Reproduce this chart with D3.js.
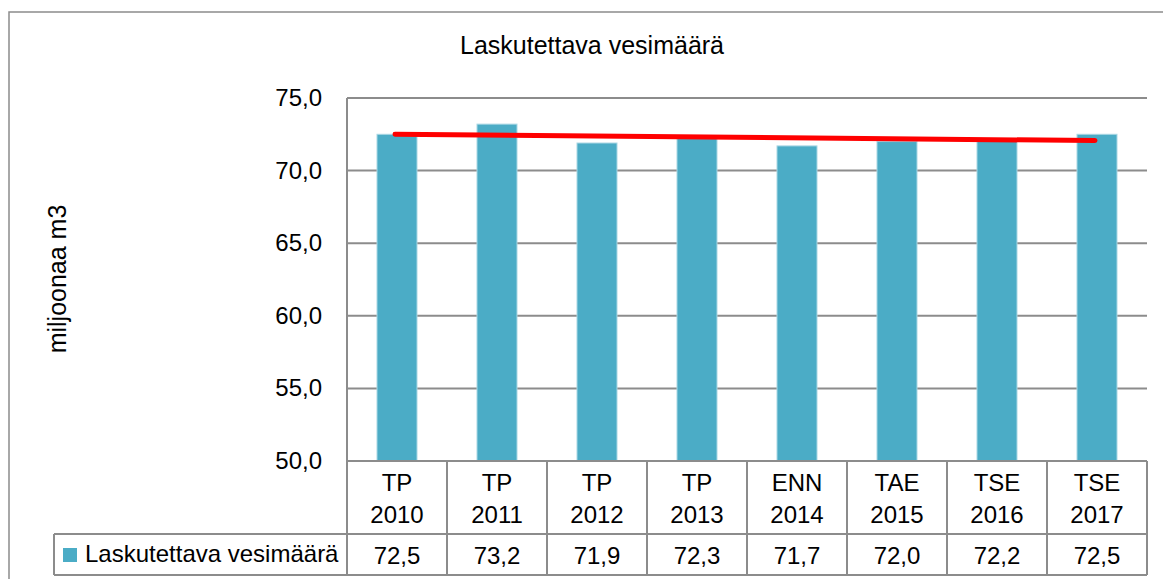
<!DOCTYPE html>
<html>
<head>
<meta charset="utf-8">
<script src="https://cdn.jsdelivr.net/npm/d3@7"></script>
<style>
  body { margin: 0; background: #fff; }
  text { font-family: "Liberation Sans", Arial, sans-serif; fill: #000; }
</style>
</head>
<body>
<div id="chart"></div>
<script>
// chart data
const categories = ["TP 2010", "TP 2011", "TP 2012", "TP 2013", "ENN 2014", "TAE 2015", "TSE 2016", "TSE 2017"];
const values = [72.5, 73.2, 71.9, 72.3, 71.7, 72.0, 72.2, 72.5];
const yTicks = [50, 55, 60, 65, 70, 75];
const seriesName = "Laskutettava vesimäärä";
const chartTitle = "Laskutettava vesimäärä";
const yLabel = "miljoonaa m3";

const W = 1163, H = 579;
const margin = {top: 98, right: 16, bottom: 119, left: 347},
    width = W - margin.left - margin.right,
    height = H - margin.top - margin.bottom;

const fmt = v => d3.format(".1f")(v).replace(".", ",");
const grey = "#8c8c8c";

const svg = d3.select("#chart")
  .append("svg")
    .attr("width", W)
    .attr("height", H);

// outer frame
svg.append("rect")
  .attr("x", 9).attr("y", 12)
  .attr("width", W + 10).attr("height", H + 10)
  .attr("fill", "none")
  .attr("stroke", grey)
  .attr("stroke-width", 1.5);

const g = svg.append("g")
  .attr("transform", "translate(" + margin.left + "," + margin.top + ")");

// scales
const xBand = d3.scaleBand().domain(categories).range([0, width]);
const xBar = d3.scaleBand().domain(categories).range([0, width])
  .paddingInner(0.6).paddingOuter(0.3);
const y = d3.scaleLinear().domain([50, 75]).range([height + 1, 0]);

// gridlines
g.append("g")
  .selectAll("line")
  .data(yTicks)
  .enter()
  .append("line")
    .attr("x1", 0).attr("x2", width)
    .attr("y1", d => y(d)).attr("y2", d => y(d))
    .attr("stroke", grey)
    .attr("stroke-width", 2);

// y tick labels
g.append("g")
  .selectAll("text")
  .data(yTicks)
  .enter()
  .append("text")
    .attr("x", -25)
    .attr("y", d => y(d) + 8)
    .attr("text-anchor", "end")
    .style("font-size", "24px")
    .text(d => fmt(d));

// bars
g.append("g")
  .selectAll("rect")
  .data(values)
  .enter()
  .append("rect")
    .attr("x", (d, i) => xBar(categories[i]))
    .attr("width", xBar.bandwidth())
    .attr("y", d => y(d))
    .attr("height", d => y(50) - y(d))
    .attr("fill", "#4bacc6")
    .attr("stroke", "#a9d7e4")
    .attr("stroke-width", 1);

// linear trendline (least squares, as the spreadsheet draws it)
const xs = values.map((d, i) => i + 1);
const mx = d3.mean(xs), my = d3.mean(values);
const slope = d3.sum(xs, (d, i) => (d - mx) * (values[i] - my)) / d3.sum(xs, d => (d - mx) * (d - mx));
const icpt = my - slope * mx;
const trend = [0, categories.length - 1].map(i => ({i: i, v: icpt + slope * (i + 1)}));
g.append("path")
  .datum(trend)
  .attr("fill", "none")
  .attr("stroke", "#ff0000")
  .attr("stroke-width", 5)
  .attr("stroke-linecap", "round")
  .attr("d", d3.line()
    .x(d => xBand(categories[d.i]) + xBand.bandwidth() / 2 - 2)
    .y(d => y(d.v)));

// data table
const rowTop = height + 2, row1 = 72, row2 = 41;
const table = g.append("g").attr("stroke", grey).attr("stroke-width", 2);
// axis line continues through table
table.append("line").attr("x1", 0).attr("x2", 0).attr("y1", 0).attr("y2", rowTop + row1 + row2);
table.selectAll(".vline")
  .data(categories)
  .enter()
  .append("line")
    .attr("x1", d => xBand(d) + xBand.bandwidth()).attr("x2", d => xBand(d) + xBand.bandwidth())
    .attr("y1", y(50)).attr("y2", rowTop + row1 + row2);
table.append("line").attr("x1", 0).attr("x2", width).attr("y1", y(50)).attr("y2", y(50));
table.append("line").attr("x1", -293).attr("x2", width).attr("y1", rowTop + row1).attr("y2", rowTop + row1);
table.append("line").attr("x1", -293).attr("x2", width).attr("y1", rowTop + row1 + row2).attr("y2", rowTop + row1 + row2);
table.append("line").attr("x1", -293).attr("x2", -293).attr("y1", rowTop + row1).attr("y2", rowTop + row1 + row2);

// category labels (two lines)
const cat = g.append("g")
  .selectAll("text")
  .data(categories)
  .enter()
  .append("text")
    .attr("text-anchor", "middle")
    .style("font-size", "24px");
cat.append("tspan")
  .attr("x", d => xBand(d) + xBand.bandwidth() / 2)
  .attr("y", rowTop + 29)
  .text(d => d.split(" ")[0]);
cat.append("tspan")
  .attr("x", d => xBand(d) + xBand.bandwidth() / 2)
  .attr("y", rowTop + 61)
  .text(d => d.split(" ")[1]);

// value row
g.append("g")
  .selectAll("text")
  .data(values)
  .enter()
  .append("text")
    .attr("x", (d, i) => xBand(categories[i]) + xBand.bandwidth() / 2)
    .attr("y", rowTop + row1 + 30)
    .attr("text-anchor", "middle")
    .style("font-size", "24px")
    .text(d => fmt(d));

// legend key in table
g.append("rect")
  .attr("x", -284).attr("y", rowTop + row1 + 14)
  .attr("width", 14).attr("height", 14)
  .attr("fill", "#4bacc6");
g.append("text")
  .attr("x", -262).attr("y", rowTop + row1 + 28)
  .style("font-size", "24px")
  .text(seriesName);

// title
svg.append("text")
  .attr("x", 592).attr("y", 54)
  .attr("text-anchor", "middle")
  .style("font-size", "25px")
  .text(chartTitle);

// y axis label
svg.append("text")
  .attr("transform", "translate(66,279) rotate(-90)")
  .attr("text-anchor", "middle")
  .style("font-size", "25px")
  .text(yLabel);
</script>
</body>
</html>
